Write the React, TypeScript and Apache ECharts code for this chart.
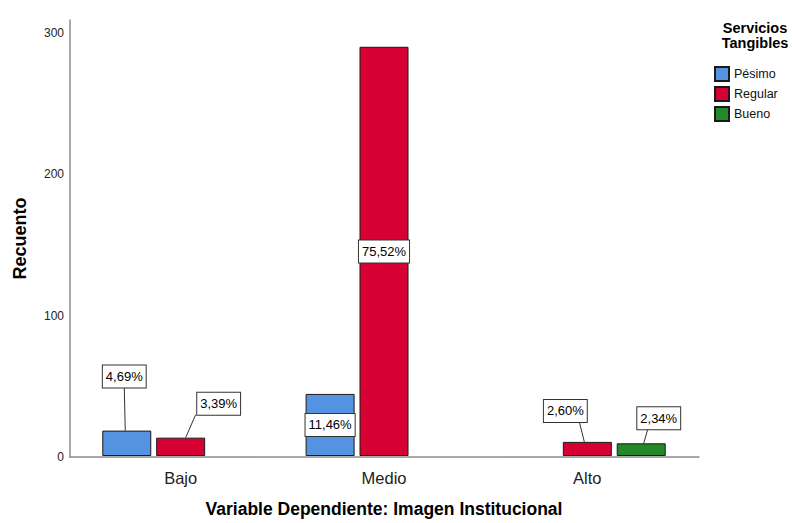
import React, { useEffect, useRef } from "react";
import * as echarts from "echarts";

// Recuento por nivel de Imagen Institucional, agrupado por Servicios Tangibles
const categories = ["Bajo", "Medio", "Alto"];
const pesimo = [18, 44, null];
const regular = [13, 290, 10];
const bueno = [null, null, 9];
const yTicks = [0, 100, 200, 300];

const seriesNames = ["Pésimo", "Regular", "Bueno"];
const seriesColors = ["#5592e0", "#d60032", "#23882c"];

// Callout placement relative to the bar's top-centre:
// [label centre dx, gap above bar top, leader start dx, leader end dx]; null = label inside bar
const callouts: Record<string, ([number, number, number, number] | null)[]> = {
  "Pésimo": [[-2.5, 43, -1.5, -2.5], null, null],
  Regular: [[38, 23, 5, 15], null, [-22, 20, -3, -8]],
  Bueno: [null, null, [17.5, 14, 2.5, 6.5]],
};

const FONT = "'Liberation Sans', Arial, sans-serif";
const BAR_W = 49;
const BAR_GAP = 0.1;

export default function App() {
  const ref = useRef<HTMLDivElement>(null);

  useEffect(() => {
    if (!ref.current) return;
    const chart = echarts.init(ref.current, undefined, { renderer: "svg" });

    const groups = [pesimo, regular, bueno];
    const allValues = groups.flat().filter((v) => v != null) as number[];
    const total = allValues.reduce((a, b) => a + b, 0);
    const pct = (v: number) => ((v / total) * 100).toFixed(2).replace(".", ",") + "%";

    const yMax = 309;

    const labelBox = {
      color: "#000",
      fontFamily: FONT,
      fontSize: 13,
      lineHeight: 16,
      backgroundColor: "#fff",
      borderColor: "#333",
      borderWidth: 1,
      padding: [3, 3],
    };

    const makeSeries = (name: string, values: (number | null)[], color: string) => ({
      name,
      type: "bar",
      xAxisIndex: 1,
      yAxisIndex: 1,
      barWidth: BAR_W,
      barGap: BAR_GAP * 100 + "%",
      itemStyle: { color, borderColor: "#1a1a1a", borderWidth: 1 },
      data: values.map((v, i) =>
        v == null
          ? null
          : {
              value: v,
              label: { show: !callouts[name][i] },
            }
      ),
      label: {
        show: true,
        position: "inside",
        formatter: (p: any) => pct(p.value),
        ...labelBox,
      },
    });

    // callouts above short bars: boxed percentage with a leader line to the bar top
    const calloutData: number[][] = [];
    seriesNames.forEach((name, s) => {
      groups[s].forEach((v, i) => {
        if (v != null && callouts[name][i]) calloutData.push([i, v, s]);
      });
    });

    const calloutSeries = {
      type: "custom",
      xAxisIndex: 1,
      yAxisIndex: 1,
      silent: true,
      z: 5,
      data: calloutData,
      renderItem: (_params: any, api: any) => {
        const cat = api.value(0);
        const v = api.value(1);
        const s = api.value(2);
        const c = callouts[seriesNames[s]][cat]!;
        const top = api.coord([cat, v]);
        const bx = top[0] + (s - 1) * BAR_W * (1 + BAR_GAP);
        const by = top[1];
        const labelBottom = by - c[1];
        return {
          type: "group",
          children: [
            {
              type: "line",
              shape: { x1: bx + c[2], y1: by, x2: bx + c[3], y2: labelBottom },
              style: { stroke: "#333", lineWidth: 1 },
            },
            {
              type: "text",
              x: bx + c[0],
              y: labelBottom,
              style: {
                text: pct(v),
                align: "center",
                verticalAlign: "bottom",
                fill: "#000",
                font: `13px ${FONT}`,
                lineHeight: 16,
                backgroundColor: "#fff",
                borderColor: "#333",
                borderWidth: 1,
                padding: [3, 3],
              },
            },
          ],
        };
      },
    };

    chart.setOption({
      animation: false,
      backgroundColor: "#fff",
      grid: [
        { left: 70, right: 93, top: 20, bottom: 66 },
        { left: 79, right: 103, top: 20, bottom: 66 },
      ],
      legend: {
        data: seriesNames,
        orient: "vertical",
        left: 709,
        top: 61,
        itemWidth: 14,
        itemHeight: 14,
        itemGap: 4,
        icon: "rect",
        textStyle: { fontFamily: FONT, fontSize: 12.5, lineHeight: 14, color: "#111" },
      },
      graphic: [
        {
          type: "text",
          x: 755,
          y: 20,
          style: {
            text: "Servicios\nTangibles",
            textAlign: "center",
            fontFamily: FONT,
            fontWeight: "bold",
            fontSize: 14.5,
            lineHeight: 15,
            fill: "#000",
          },
        },
      ],
      xAxis: [
        {
          type: "value",
          gridIndex: 0,
          min: 0,
          max: 1,
          axisLine: { show: true, onZero: false, lineStyle: { color: "#8c8c8c", width: 1.5 } },
          axisTick: { show: false },
          axisLabel: { show: false },
          splitLine: { show: false },
        },
        {
          type: "category",
          gridIndex: 1,
          data: categories,
          axisLine: { show: false },
          axisTick: { show: false },
          axisLabel: { fontFamily: FONT, fontSize: 16.5, color: "#222", margin: 13 },
          name: "Variable Dependiente: Imagen Institucional",
          nameLocation: "middle",
          nameGap: 44,
          nameTextStyle: { fontFamily: FONT, fontSize: 17.5, fontWeight: "bold", color: "#000" },
        },
      ],
      yAxis: [
        {
          type: "value",
          gridIndex: 0,
          min: 0,
          max: yMax,
          interval: 100,
          axisLine: { show: true, lineStyle: { color: "#8c8c8c", width: 1.5 } },
          axisTick: { show: false },
          splitLine: { show: false },
          axisLabel: {
            showMaxLabel: false,
            fontFamily: FONT,
            fontSize: 12,
            color: "#222",
            margin: 6,
            formatter: (v: number) => (yTicks.includes(v) ? String(v) : ""),
          },
          name: "Recuento",
          nameLocation: "middle",
          nameGap: 41,
          nameRotate: 90,
          nameTextStyle: { fontFamily: FONT, fontSize: 18, fontWeight: "bold", color: "#000" },
        },
        {
          type: "value",
          gridIndex: 1,
          min: 0,
          max: yMax,
          show: false,
        },
      ],
      series: [
        makeSeries(seriesNames[0], pesimo, seriesColors[0]),
        makeSeries(seriesNames[1], regular, seriesColors[1]),
        makeSeries(seriesNames[2], bueno, seriesColors[2]),
        calloutSeries,
      ],
    });

    return () => chart.dispose();
  }, []);

  return (
    <div
      ref={ref}
      style={{ position: "fixed", left: 0, top: 0, width: 792, height: 523 }}
    />
  );
}
